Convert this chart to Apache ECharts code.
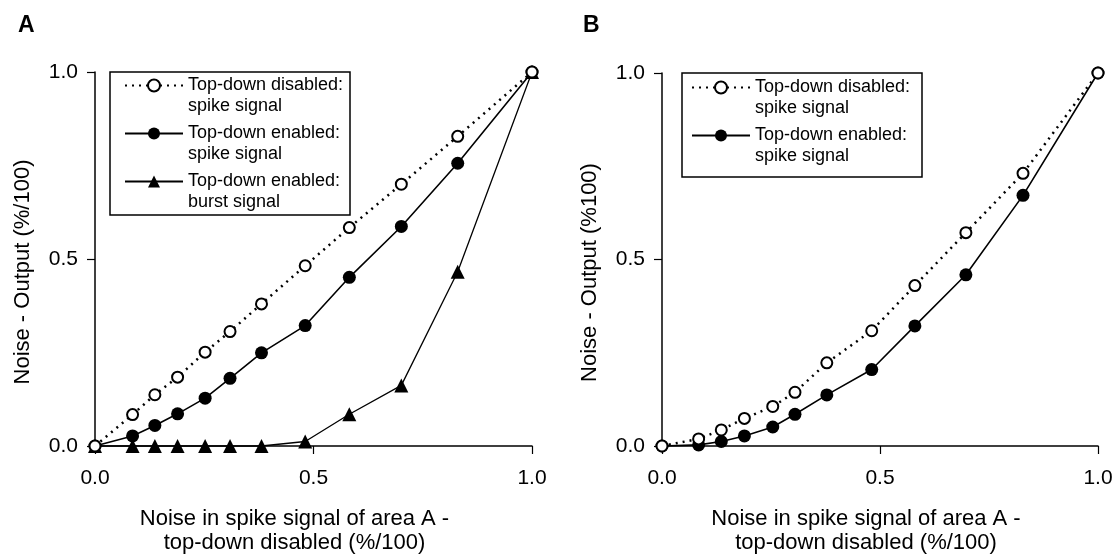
<!DOCTYPE html>
<html>
	<head>
		<meta charset="UTF-8">
		<title>Noise output</title>
		<style>
			html, body { margin: 0; padding: 0; background: #fff; }
			#chart { width: 1117px; height: 560px; }
		</style>
	</head>
	<body>
		<div id="chart"></div>

		<script src="https://cdn.jsdelivr.net/npm/echarts@6/dist/echarts.min.js"></script>
		<script>
			// 数据：A 图
			var noiseA = [0, 0.086, 0.137, 0.189, 0.252, 0.309, 0.381, 0.481, 0.582, 0.701, 0.830, 1.0];
			var disabledA = [0, 0.084, 0.137, 0.184, 0.251, 0.306, 0.380, 0.482, 0.584, 0.700, 0.828, 1.0];
			var enabledA = [0, 0.027, 0.055, 0.086, 0.128, 0.181, 0.249, 0.322, 0.451, 0.587, 0.756, 1.0];
			var burstA = [0, 0, 0, 0, 0, 0, 0, 0.012, 0.085, 0.162, 0.466, 1.0];
			// 数据：B 图
			var noiseB = [0, 0.084, 0.136, 0.189, 0.254, 0.305, 0.378, 0.481, 0.580, 0.697, 0.828, 1.0];
			var disabledB = [0, 0.019, 0.043, 0.074, 0.106, 0.144, 0.223, 0.309, 0.430, 0.572, 0.731, 1.0];
			var enabledB = [0, 0.003, 0.012, 0.027, 0.051, 0.085, 0.137, 0.205, 0.322, 0.459, 0.672, 1.0];
			var ticks = [0, 0.5, 1.0];

			var nameDisabled = 'Top-down disabled:\nspike signal';
			var nameEnabled = 'Top-down enabled:\nspike signal';
			var nameBurst = 'Top-down enabled:\nburst signal';
			var xName = 'Noise in spike signal of area A -\ntop-down disabled (%/100)';

			var font = '"Liberation Sans", Arial, sans-serif';

			var pairs = function(xs, ys) {
				return xs.map(function(x, i) { return [x, ys[i]]; });
			};

			var chart = echarts.init(document.getElementById('chart'));

			var xAxisBase = function(idx, padRight) {
				return {
					gridIndex: idx,
					type: 'value',
					min: ticks[0], max: ticks[2], interval: ticks[1],
					name: xName,
					nameLocation: 'middle',
					nameGap: 61,
					nameTextStyle: { fontFamily: font, fontSize: 22, color: '#000', lineHeight: 24, padding: [0, padRight, 0, 0] },
					axisLine: { show: true, lineStyle: { color: '#000', width: 1.5 } },
					axisTick: { show: true, length: 8, lineStyle: { color: '#000', width: 1.2 } },
					axisLabel: { fontFamily: font, fontSize: 21, color: '#000', margin: 22,
						formatter: function(v) { return v.toFixed(1); } },
					splitLine: { show: false }
				};
			};
			var yAxisBase = function(idx, name) {
				return {
					gridIndex: idx,
					type: 'value',
					min: ticks[0], max: ticks[2], interval: ticks[1],
					name: name,
					nameLocation: 'middle',
					nameGap: 61,
					nameTextStyle: { fontFamily: font, fontSize: 22, color: '#000', padding: [0, 26, 0, 0] },
					axisLine: { show: true, lineStyle: { color: '#000', width: 1.5 } },
					axisTick: { show: true, length: 8, lineStyle: { color: '#000', width: 1.2 } },
					axisLabel: { fontFamily: font, fontSize: 21, color: '#000', margin: 17,
						formatter: function(v) { return v.toFixed(1); } },
					splitLine: { show: false }
				};
			};

			// 三种线型
			var dottedSeries = function(idx, data) {
				return {
					name: nameDisabled, type: 'line', xAxisIndex: idx, yAxisIndex: idx,
					data: data, symbol: 'emptyCircle', symbolSize: 11, clip: false, z: 4,
					lineStyle: { color: '#000', width: 2.5, type: [2, 5], cap: 'butt' },
					itemStyle: { color: '#000', borderColor: '#000', borderWidth: 1.8 }
				};
			};
			var solidSeries = function(idx, data) {
				return {
					name: nameEnabled, type: 'line', xAxisIndex: idx, yAxisIndex: idx,
					data: data, symbol: 'circle', symbolSize: 13, clip: false, z: 3,
					lineStyle: { color: '#000', width: 1.6 },
					itemStyle: { color: '#000' }
				};
			};

			// 图例：首行文字与图标对齐（前面加一个空行）
			var legendBase = function(left, top, names) {
				return {
					orient: 'vertical',
					left: left, top: top,
					padding: 0,
					itemWidth: 58, itemHeight: 15,
					itemGap: -15,
					selectedMode: false,
					data: names,
					formatter: function(name) { return '\n' + name; },
					textStyle: { fontFamily: font, fontSize: 18, color: '#000', lineHeight: 21 }
				};
			};

			var option = {
				animation: false,
				backgroundColor: '#fff',
				title: [
					{ text: 'A', left: 13, top: 9, textStyle: { fontFamily: font, fontSize: 23, fontWeight: 'bold', color: '#000' } },
					{ text: 'B', left: 578, top: 9, textStyle: { fontFamily: font, fontSize: 23, fontWeight: 'bold', color: '#000' } }
				],
				grid: [
					{ left: 95, right: 585, top: 72, bottom: 112 },
					{ left: 662, right: 19, top: 73, bottom: 111 }
				],
				xAxis: [xAxisBase(0, 38), xAxisBase(1, 28)],
				yAxis: [yAxisBase(0, 'Noise - Output (%/100)'), yAxisBase(1, 'Noise - Output (%100)')],
				legend: [
					legendBase(124, 54, [nameDisabled, nameEnabled, nameBurst]),
					legendBase(691, 56, [nameDisabled, nameEnabled])
				],
				// 图例外框
				graphic: [
					{ type: 'rect', shape: { x: 110, y: 72, width: 240, height: 143 },
						style: { fill: 'none', stroke: '#000', lineWidth: 1.5 }, z: 1 },
					{ type: 'rect', shape: { x: 682, y: 73, width: 240, height: 104 },
						style: { fill: 'none', stroke: '#000', lineWidth: 1.5 }, z: 1 }
				],
				series: [
					dottedSeries(0, pairs(noiseA, disabledA)),
					solidSeries(0, pairs(noiseA, enabledA)),
					{
						name: nameBurst, type: 'line', xAxisIndex: 0, yAxisIndex: 0,
						data: pairs(noiseA, burstA), symbol: 'triangle', symbolSize: 14, clip: false, z: 2,
						lineStyle: { color: '#000', width: 1.3 },
						itemStyle: { color: '#000' }
					},
					dottedSeries(1, pairs(noiseB, disabledB)),
					solidSeries(1, pairs(noiseB, enabledB))
				]
			};
			chart.setOption(option);
		</script>
	</body>
</html>
